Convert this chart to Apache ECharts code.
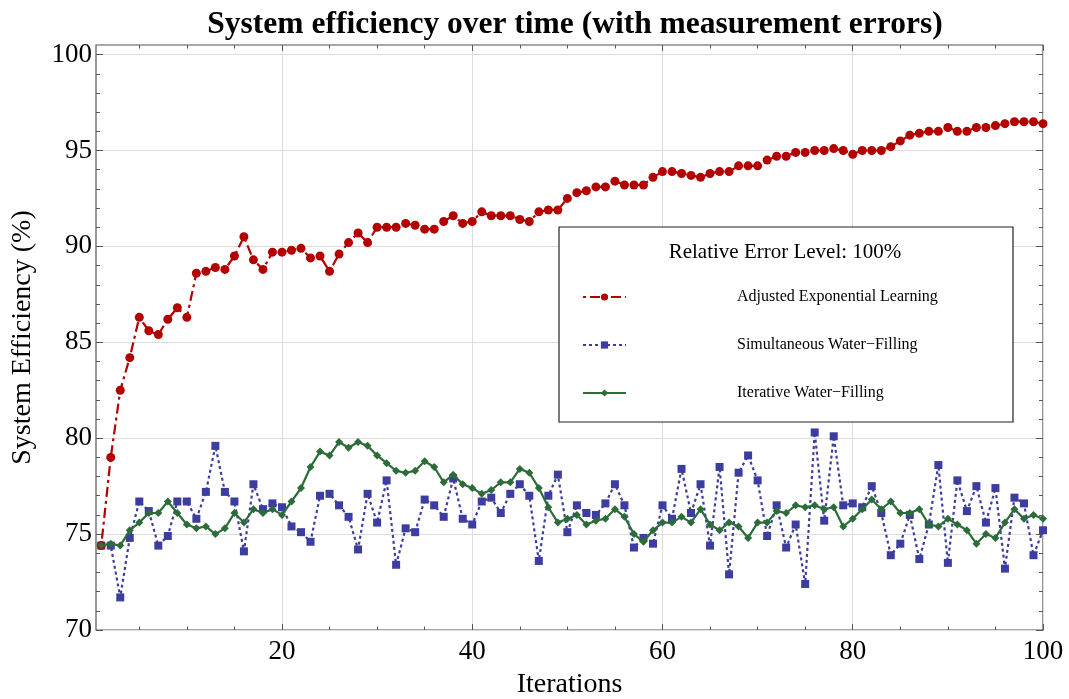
<!DOCTYPE html>
<html>
<head>
<meta charset="utf-8">
<script src="https://cdn.jsdelivr.net/npm/echarts@6/dist/echarts.min.js"></script>
<style>
  html, body { margin: 0; padding: 0; background: #fff; }
  #chart { width: 1069px; height: 699px; }
</style>
</head>
<body>
<div id="chart"></div>
<script>
// iterations 1..100
var iterations = [];
for (var k = 1; k <= 100; k++) iterations.push(k);

var adjustedExp = [
  74.4, 79.0, 82.5, 84.2, 86.3, 85.6, 85.4, 86.2, 86.8, 86.3,
  88.6, 88.7, 88.9, 88.8, 89.5, 90.5, 89.3, 88.8, 89.7, 89.7,
  89.8, 89.9, 89.4, 89.5, 88.7, 89.6, 90.2, 90.7, 90.2, 91.0,
  91.0, 91.0, 91.2, 91.1, 90.9, 90.9, 91.3, 91.6, 91.2, 91.3,
  91.8, 91.6, 91.6, 91.6, 91.4, 91.3, 91.8, 91.9, 91.9, 92.5,
  92.8, 92.9, 93.1, 93.1, 93.4, 93.2, 93.2, 93.2, 93.6, 93.9,
  93.9, 93.8, 93.7, 93.6, 93.8, 93.9, 93.9, 94.2, 94.2, 94.2,
  94.5, 94.7, 94.7, 94.9, 94.9, 95.0, 95.0, 95.1, 95.0, 94.8,
  95.0, 95.0, 95.0, 95.2, 95.5, 95.8, 95.9, 96.0, 96.0, 96.2,
  96.0, 96.0, 96.2, 96.2, 96.3, 96.4, 96.5, 96.5, 96.5, 96.4
];

var simultaneousWF = [
  74.4, 74.4, 71.7, 74.8, 76.7, 76.2, 74.4, 74.9, 76.7, 76.7,
  75.8, 77.2, 79.6, 77.2, 76.7, 74.1, 77.6, 76.3, 76.6, 76.4,
  75.4, 75.1, 74.6, 77.0, 77.1, 76.5, 75.9, 74.2, 77.1, 75.6,
  77.8, 73.4, 75.3, 75.1, 76.8, 76.5, 75.9, 77.9, 75.8, 75.5,
  76.7, 76.9, 76.1, 77.1, 77.6, 77.0, 73.6, 77.0, 78.1, 75.1,
  76.5, 76.1, 76.0, 76.6, 77.6, 76.5, 74.3, 74.8, 74.5, 76.5,
  75.8, 78.4, 76.1, 77.6, 74.4, 78.5, 72.9, 78.2, 79.1, 77.8,
  74.9, 76.5, 74.3, 75.5, 72.4, 80.3, 75.7, 80.1, 76.5, 76.6,
  76.4, 77.5, 76.1, 73.9, 74.5, 76.0, 73.7, 75.5, 78.6, 73.5,
  77.8, 76.2, 77.5, 75.6, 77.4, 73.2, 76.9, 76.6, 73.9, 75.2
];

var iterativeWF = [
  74.4, 74.5, 74.4, 75.2, 75.6, 76.1, 76.1, 76.7, 76.1, 75.5,
  75.3, 75.4, 75.0, 75.3, 76.1, 75.6, 76.3, 76.1, 76.3, 76.0,
  76.7, 77.4, 78.5, 79.3, 79.1, 79.8, 79.5, 79.8, 79.6, 79.1,
  78.7, 78.3, 78.2, 78.3, 78.8, 78.5, 77.7, 78.1, 77.6, 77.4,
  77.1, 77.3, 77.7, 77.7, 78.4, 78.2, 77.4, 76.4, 75.6, 75.8,
  76.0, 75.5, 75.7, 75.8, 76.3, 75.9, 75.0, 74.6, 75.2, 75.6,
  75.6, 75.9, 75.6, 76.3, 75.5, 75.2, 75.6, 75.4, 74.8, 75.6,
  75.6, 76.2, 76.1, 76.5, 76.4, 76.5, 76.3, 76.4, 75.4, 75.8,
  76.3, 76.8, 76.3, 76.7, 76.1, 76.1, 76.3, 75.5, 75.4, 75.8,
  75.5, 75.2, 74.5, 75.0, 74.8, 75.6, 76.3, 75.8, 76.0, 75.8
];

// tick values
var xMajorTicks = [20, 40, 60, 80, 100];
var xMinorTicks = [5, 10, 15, 25, 30, 35, 45, 50, 55, 65, 70, 75, 85, 90, 95];
var yMajorTicks = [70, 75, 80, 85, 90, 95, 100];
var yMinorTicks = [71, 72, 73, 74, 76, 77, 78, 79, 81, 82, 83, 84, 86, 87, 88, 89,
                   91, 92, 93, 94, 96, 97, 98, 99];

var seriesNames = [
  "Adjusted Exponential Learning",
  "Simultaneous Water\u2212Filling",
  "Iterative Water\u2212Filling"
];
var legendTitle = "Relative Error Level: 100%";

function pairs(vals) {
  return vals.map(function (v, i) { return [iterations[i], v]; });
}

var serif = "Liberation Serif, Times New Roman, serif";
var frameColor = "#555";
var gridColor = "#dcdcdc";

var chart = echarts.init(document.getElementById("chart"));

// x range starts a bit before 1, like the original plot
function xAxisCfg(pos, ticks, len, extra) {
  return Object.assign({
    type: "value", position: pos, min: 0.45, max: 100,
    axisLine: { show: false },
    axisTick: { show: true, inside: true, length: len, customValues: ticks, lineStyle: { color: frameColor } },
    axisLabel: { show: false },
    splitLine: { show: false }
  }, extra || {});
}
function yAxisCfg(pos, ticks, len, extra) {
  return Object.assign({
    type: "value", position: pos, min: 70, max: 100.5,
    axisLine: { show: false },
    axisTick: { show: true, inside: true, length: len, customValues: ticks, lineStyle: { color: frameColor } },
    axisLabel: { show: false },
    splitLine: { show: false }
  }, extra || {});
}

var option = {
  animation: false,
  backgroundColor: "#fff",
  title: {
    text: "System efficiency over time (with measurement errors)",
    left: 570,
    textAlign: "center",
    top: 4,
    textStyle: { fontFamily: serif, fontWeight: "bold", fontSize: 31.5, color: "#000" }
  },
  grid: {
    left: 96, right: 26, top: 45, bottom: 69,
    outerBoundsMode: "none",
    show: true, borderColor: frameColor, borderWidth: 1.2, backgroundColor: "transparent"
  },
  xAxis: [
    xAxisCfg("bottom", xMajorTicks, 6, {
      name: "Iterations",
      nameLocation: "middle",
      nameGap: 41,
      nameTextStyle: { fontFamily: serif, fontSize: 28, color: "#000" },
      axisLabel: {
        show: true, margin: 8, customValues: xMajorTicks,
        fontFamily: serif, fontSize: 27, color: "#000"
      },
      splitLine: { show: true, lineStyle: { color: gridColor, width: 1 } }
    }),
    xAxisCfg("bottom", xMinorTicks, 3.5),
    xAxisCfg("top", xMajorTicks, 6),
    xAxisCfg("top", xMinorTicks, 3.5)
  ],
  yAxis: [
    yAxisCfg("left", yMajorTicks, 7, {
      name: "System Efficiency (%)",
      nameLocation: "middle",
      nameGap: 59,
      nameTextStyle: { fontFamily: serif, fontSize: 28, color: "#000" },
      axisLabel: {
        show: true, margin: 4, customValues: yMajorTicks,
        fontFamily: serif, fontSize: 27, color: "#000"
      },
      splitLine: { show: true, lineStyle: { color: gridColor, width: 1 } }
    }),
    yAxisCfg("left", yMinorTicks, 4),
    yAxisCfg("right", yMajorTicks, 7),
    yAxisCfg("right", yMinorTicks, 4)
  ],
  legend: {
    orient: "vertical",
    left: 582,
    top: 289,
    padding: 0,
    itemWidth: 43,
    itemHeight: 9,
    itemGap: 32,
    z: 10,
    data: seriesNames,
    textStyle: { fontFamily: serif, fontSize: 16, color: "#000", padding: [0, 0, 0, 106] }
  },
  graphic: [
    {
      type: "rect",
      z: 5,
      shape: { x: 559, y: 227, width: 454, height: 195 },
      style: { fill: "#fff", stroke: "#222", lineWidth: 1.2 }
    },
    {
      type: "text",
      z: 6,
      x: 785,
      y: 252,
      style: {
        text: legendTitle,
        fontFamily: serif, fontSize: 21, fill: "#000",
        textAlign: "center", textVerticalAlign: "middle"
      }
    }
  ],
  series: [
    {
      name: seriesNames[0],
      type: "line",
      data: pairs(adjustedExp),
      symbol: "circle",
      symbolSize: 9,
      itemStyle: { color: "#b30000" },
      lineStyle: { color: "#b30000", width: 2.2, type: [3, 4, 10, 4] },
      z: 3
    },
    {
      name: seriesNames[1],
      type: "line",
      data: pairs(simultaneousWF),
      symbol: "rect",
      symbolSize: 8,
      itemStyle: { color: "#3d3d9f" },
      lineStyle: { color: "#3d3d9f", width: 2.2, type: [3, 3] },
      z: 2
    },
    {
      name: seriesNames[2],
      type: "line",
      data: pairs(iterativeWF),
      symbol: "diamond",
      symbolSize: 8,
      itemStyle: { color: "#2c6c38" },
      lineStyle: { color: "#2c6c38", width: 2.2 },
      z: 4
    }
  ]
};

chart.setOption(option);
</script>
</body>
</html>
